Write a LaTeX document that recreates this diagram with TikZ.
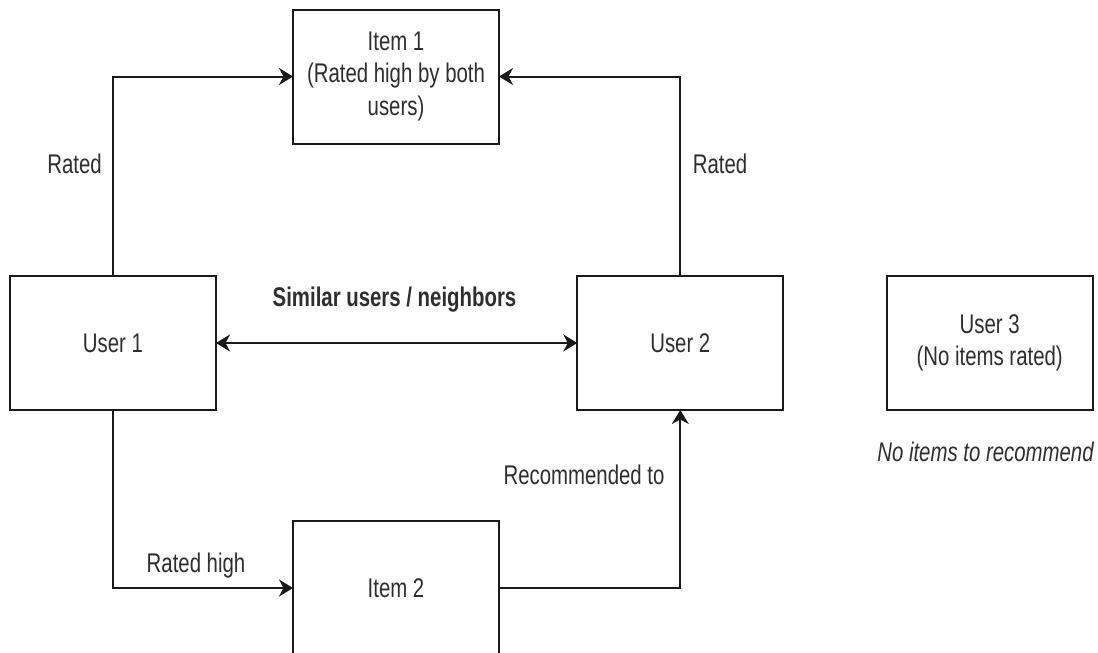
\documentclass[tikz,border=0pt]{standalone}
\usepackage{fontspec}
\setmainfont{Liberation Sans}[FakeStretch=0.755]
\usetikzlibrary{arrows.meta}
\begin{document}
\begin{tikzpicture}[x=1pt,y=-1pt,
  every node/.style={font=\fontsize{27}{32.4}\selectfont, text=black!82},
  box/.style={draw=black!90, line width=2pt, inner sep=0pt, outer sep=0pt,
    minimum width=206pt, minimum height=134pt, align=center},
  lbl/.style={anchor=base, inner sep=0pt},
  tipx/.tip={Stealth[length=14pt,width=17pt,inset=4.5pt]},
  conn/.style={draw=black!90, line width=2pt, -tipx},
  conn2/.style={draw=black!90, line width=2pt, tipx-tipx}
]
\useasboundingbox (0,0) rectangle (1098,653);
\clip (0,0) rectangle (1098,653);
\fill[white] (0,0) rectangle (1098,653);

\node[box] (item1) at (396,76.5) {Item 1\\(Rated high by both\\users)};
\node[box] (user1) at (113,343) {User 1};
\node[box] (user2) at (680.3,343) {User 2};
\node[box] (user3) at (989.7,343) {User 3\\(No items rated)};
\node[box] (item2) at (396,588) {Item 2};

\draw[conn] (user1.north) |- (item1.west);
\draw[conn] (user2.north) |- (item1.east);
\draw[conn2] (user1.east) -- (user2.west);
\draw[conn] (user1.south) |- (item2.west);
\draw[conn] (item2.east) -| (user2.south);

\node[lbl] (l1) at (74.5,173) {Rated};
\node[lbl] (l2) at (720,173) {Rated};
\node[lbl, font=\fontsize{27}{32.4}\selectfont\bfseries] (l3) at (394.5,306) {Similar users / neighbors};
\node[lbl] (l4) at (584,484) {Recommended to};
\node[lbl] (l5) at (196,572.7) {Rated high};
\node[lbl, font=\fontsize{27}{32.4}\selectfont\itshape] (l6) at (985.5,461.7) {No items to recommend};
\end{tikzpicture}
\end{document}
